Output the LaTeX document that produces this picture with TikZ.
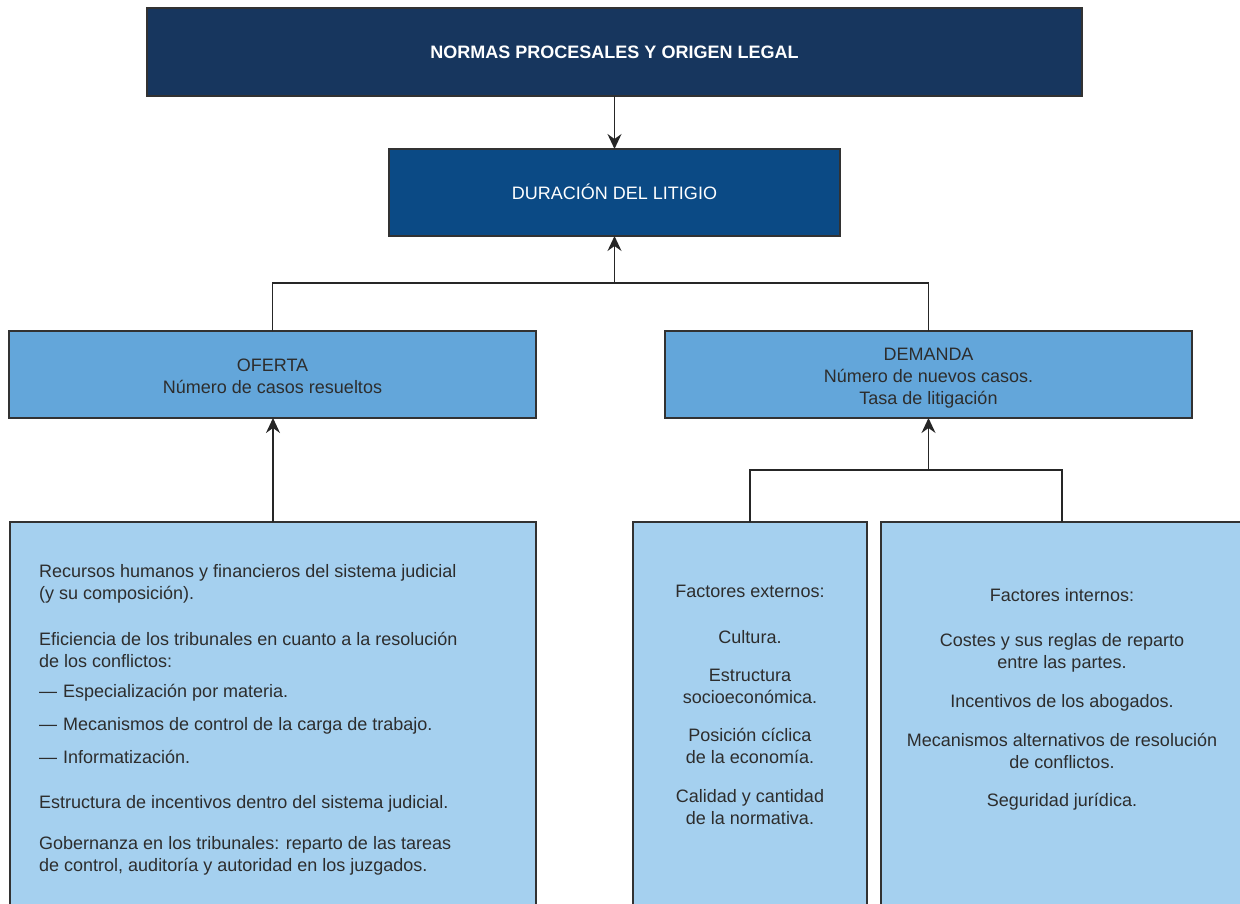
\documentclass[tikz,border=0pt]{standalone}
\usepackage{fontspec}
\setmainfont{Liberation Sans}
\usetikzlibrary{arrows.meta}
\definecolor{navy}{RGB}{23,54,94}
\definecolor{midblue}{RGB}{11,74,133}
\definecolor{skyblue}{RGB}{99,166,218}
\definecolor{paleblue}{RGB}{165,208,239}
\definecolor{ink}{RGB}{45,45,45}
\definecolor{edge}{RGB}{50,50,50}
\begin{document}
\begin{tikzpicture}[x=1pt,y=-1pt,
  font=\fontsize{18}{22}\selectfont,
  box/.style={draw=edge, line width=1.3pt, inner sep=0pt, outer sep=0pt},
  txt/.style={inner sep=0pt, text=ink},
  conn/.style={draw=black!85, line width=1.5pt},
  arr/.style={conn, -{Stealth[length=15pt,width=14pt,inset=5pt]}}]
\useasboundingbox (0,0) rectangle (1240,904);
\clip (0,0) rectangle (1240,904);
% boxes
\node[box, fill=navy, minimum width=935, minimum height=88] (top) at (614.5,52) {};
\node[inner sep=0pt, text=white, font=\fontsize{18}{22}\selectfont\bfseries, anchor=base] (toptxt) at (614.5,58.5) {NORMAS PROCESALES Y ORIGEN LEGAL};
\node[box, fill=midblue, minimum width=451, minimum height=87] (dur) at (614.5,192.5) {};
\node[inner sep=0pt, text=white, anchor=base] (durtxt) at (614.5,199.5) {DURACIÓN DEL LITIGIO};
\node[box, fill=skyblue, minimum width=527, minimum height=87] (ofe) at (272.5,374.5) {};
\node[txt, align=center, anchor=base] (ofetxt) at (272.5,393) {OFERTA\\Número de casos resueltos};
\node[box, fill=skyblue, minimum width=527, minimum height=87] (dem) at (928.5,374.5) {};
\node[txt, align=center, anchor=base] (demtxt) at (928.5,404) {DEMANDA\\Número de nuevos casos.\\Tasa de litigación};
\node[box, fill=paleblue, minimum width=526, minimum height=420, anchor=north] (res) at (273,522) {};
\node[box, fill=paleblue, minimum width=234, minimum height=420, anchor=north] (ext) at (750,522) {};
\node[box, fill=paleblue, minimum width=362, minimum height=420, anchor=north] (int) at (1062,522) {};
% left text
\node[txt, align=left, anchor=base west] (l1) at (39,599) {Recursos humanos y financieros del sistema judicial\\(y su composición).};
\node[txt, align=left, anchor=base west] (l2) at (39,667) {Eficiencia de los tribunales en cuanto a la resolución\\de los conflictos:};
\node[txt, anchor=base west] (l3) at (39,697) {\makebox[24pt][l]{\textemdash}Especialización por materia.};
\node[txt, anchor=base west] (l4) at (39,730) {\makebox[24pt][l]{\textemdash}Mecanismos de control de la carga de trabajo.};
\node[txt, anchor=base west] (l5) at (39,763) {\makebox[24pt][l]{\textemdash}Informatización.};
\node[txt, anchor=base west] (l6) at (39,808) {Estructura de incentivos dentro del sistema judicial.};
\node[txt, align=left, anchor=base west] (l7) at (39,871) {Gobernanza en los tribunales: reparto de las tareas\\de control, auditoría y autoridad en los juzgados.};
% external factors
\node[txt, anchor=base] (e1) at (750,597) {Factores externos:};
\node[txt, anchor=base] (e2) at (750,643) {Cultura.};
\node[txt, align=center, anchor=base] (e3) at (750,703) {Estructura\\socioeconómica.};
\node[txt, align=center, anchor=base] (e4) at (750,763) {Posición cíclica\\de la economía.};
\node[txt, align=center, anchor=base] (e5) at (750,824) {Calidad y cantidad\\de la normativa.};
% internal factors
\node[txt, anchor=base] (i1) at (1062,601) {Factores internos:};
\node[txt, align=center, anchor=base] (i2) at (1062,668) {Costes y sus reglas de reparto\\entre las partes.};
\node[txt, anchor=base] (i3) at (1062,707) {Incentivos de los abogados.};
\node[txt, align=center, anchor=base] (i4) at (1062,768) {Mecanismos alternativos de resolución\\de conflictos.};
\node[txt, anchor=base] (i5) at (1062,806) {Seguridad jurídica.};
% connectors
\coordinate (j1) at (614.5,283);
\coordinate (j2) at (928.5,470);
\draw[arr] (top.south) -- (dur.north);
\draw[conn] (ofe.north) |- (j1);
\draw[conn] (dem.north) |- (j1);
\draw[arr] (j1) -- (dur.south);
\draw[arr] (res.north) -- (ofe.south -| res.north);
\draw[conn] (ext.north) |- (j2);
\draw[conn] (int.north) |- (j2);
\draw[arr] (j2) -- (dem.south);
\end{tikzpicture}
\end{document}
